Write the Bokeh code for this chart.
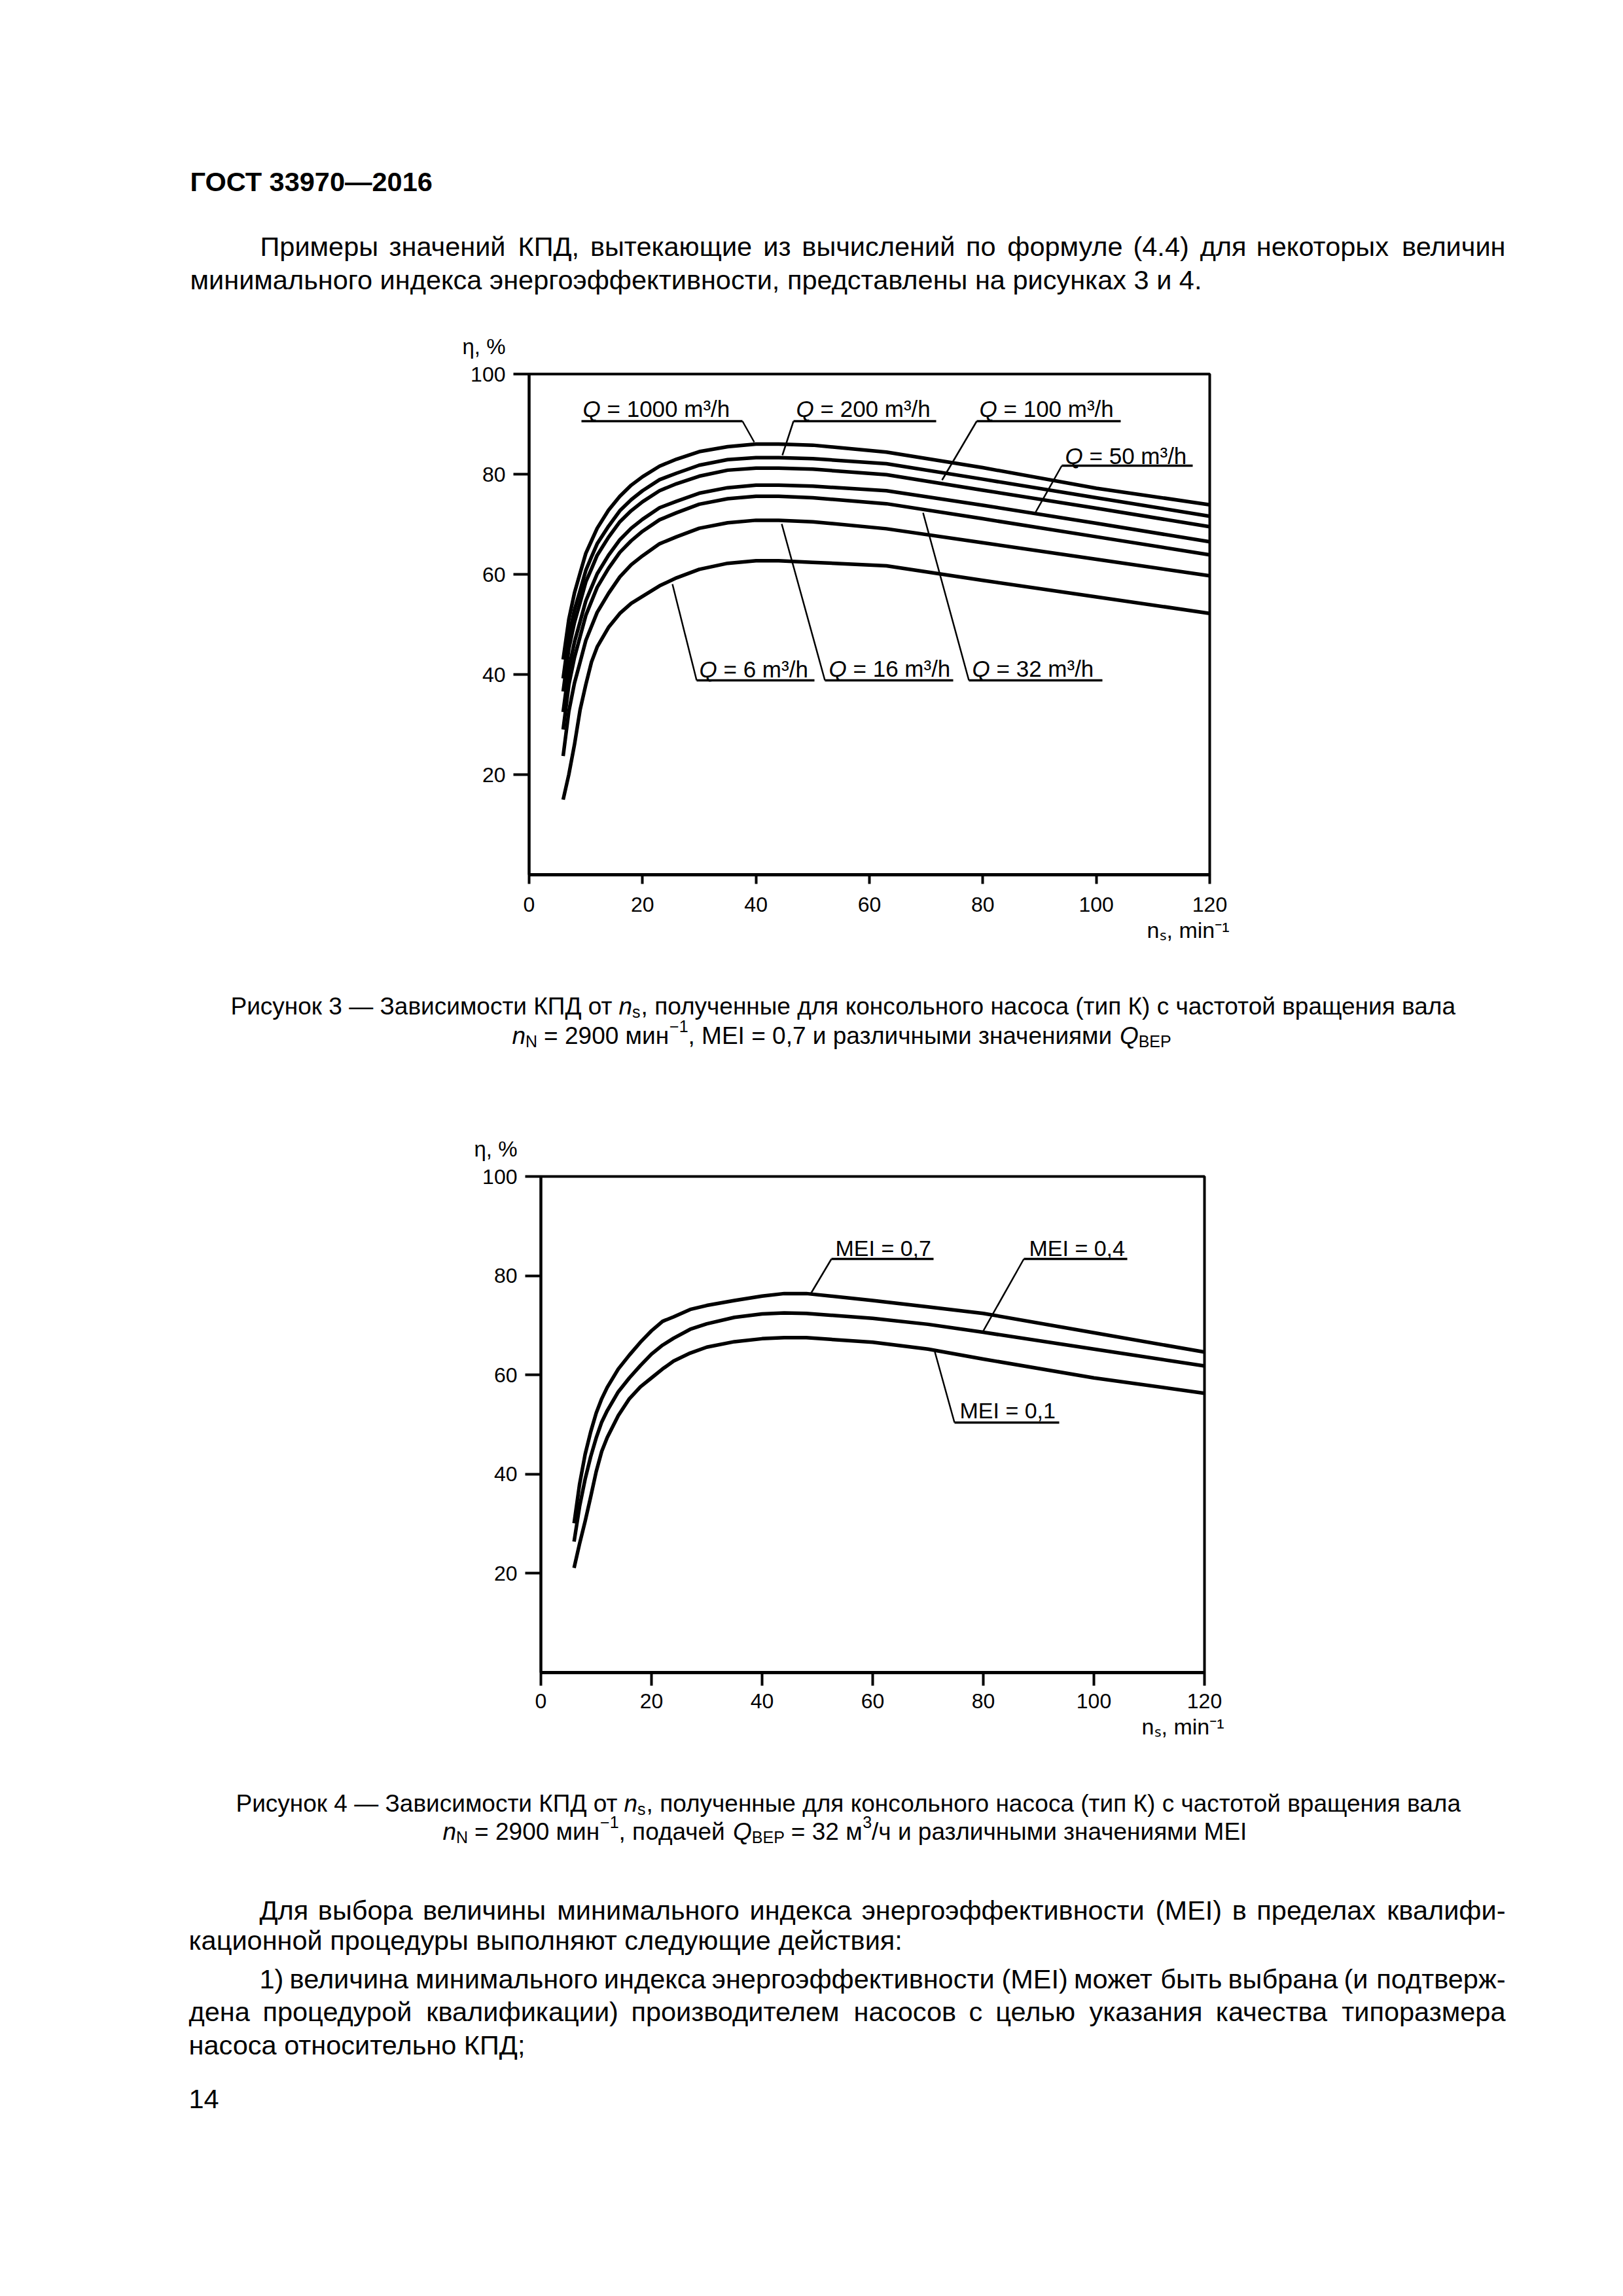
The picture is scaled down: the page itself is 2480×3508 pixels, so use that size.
from bokeh.plotting import figure
from bokeh.models import Range1d, FixedTicker, Title
from bokeh.embed import file_html
from bokeh.resources import INLINE
from bokeh.core.properties import value

FONT = "Liberation Sans"
PAGE_W = 2464

# ---------------- Figure 3 data: eta(ns) for several Q_BEP ----------------
ns_fig3 = [6, 7, 8, 9, 10, 11, 12, 14, 16, 18, 20, 23, 26, 30, 35, 40, 44, 50, 63, 80, 100, 120]
eta_q1000 = [43.0, 51.0, 56.3, 60.3, 64.2, 66.7, 69.2, 72.8, 75.6, 77.8, 79.5, 81.6, 83.0, 84.5, 85.5, 86.0, 86.0, 85.8, 84.4, 81.3, 77.2, 73.9]
eta_q200 = [39.2, 47.6, 52.9, 56.8, 60.8, 63.5, 66.1, 69.6, 72.7, 74.9, 76.7, 78.9, 80.2, 81.8, 82.9, 83.3, 83.3, 83.1, 82.1, 79.0, 75.3, 71.6]
eta_q100 = [36.6, 45.1, 50.4, 54.4, 58.5, 61.1, 63.8, 67.4, 70.5, 72.7, 74.5, 76.7, 78.1, 79.6, 80.8, 81.2, 81.2, 81.0, 79.9, 76.8, 73.2, 69.5]
eta_q50 = [32.5, 41.1, 46.5, 50.6, 54.7, 57.4, 60.1, 63.8, 66.9, 69.2, 71.0, 73.3, 74.6, 76.2, 77.3, 77.8, 77.8, 77.6, 76.7, 73.8, 70.2, 66.5]
eta_q32 = [29.0, 37.9, 43.4, 47.6, 51.8, 54.6, 57.4, 61.2, 64.4, 66.7, 68.6, 70.9, 72.3, 74.0, 75.1, 75.6, 75.6, 75.3, 74.1, 71.1, 67.5, 63.9]
eta_q16 = [23.7, 32.6, 38.3, 42.5, 46.8, 49.6, 52.4, 56.2, 59.5, 61.9, 63.7, 66.1, 67.5, 69.2, 70.3, 70.8, 70.8, 70.5, 69.1, 66.3, 63.0, 59.7]
eta_q6 = [15.0, 20.0, 26.0, 33.0, 38.0, 42.5, 45.5, 49.4, 52.2, 54.2, 55.6, 57.7, 59.3, 61.0, 62.2, 62.7, 62.7, 62.4, 61.7, 58.8, 55.5, 52.2]
q_values = ["1000", "200", "100", "50", "6", "16", "32"]

# ---------------- Figure 4 data: eta(ns) for several MEI ----------------
ns_fig4 = [6, 7, 8, 9, 10, 11, 12, 14, 16, 18, 20, 22, 24, 27, 30, 35, 40, 44, 48, 60, 70, 80, 100, 120]
eta_mei07 = [30.1, 38.0, 44.0, 48.5, 52.3, 55.2, 57.5, 61.2, 64.0, 66.6, 68.9, 70.8, 71.7, 73.2, 74.0, 75.0, 75.9, 76.4, 76.4, 75.0, 73.7, 72.4, 68.5, 64.6]
eta_mei04 = [26.4, 33.5, 39.0, 43.5, 47.3, 50.5, 52.8, 56.6, 59.4, 61.9, 64.2, 66.0, 67.4, 69.2, 70.3, 71.6, 72.3, 72.5, 72.4, 71.4, 70.2, 68.6, 65.2, 61.8]
eta_mei01 = [21.1, 26.0, 30.5, 35.4, 40.5, 44.6, 47.4, 51.8, 55.2, 57.6, 59.4, 61.2, 62.8, 64.4, 65.6, 66.7, 67.3, 67.5, 67.5, 66.6, 65.2, 63.2, 59.4, 56.3]
mei_values = ["0,7", "0,4", "0,1"]

x_ticks = [0, 20, 40, 60, 80, 100, 120]
y_ticks = [20, 40, 60, 80, 100]
y_title = "η, %"
x_title = "nₛ, min⁻¹"

# ---------------- layout geometry (page pixels) ----------------
G1 = dict(top=470, height=1010, fl=816, fr=1856, ft=579, fb=1344)
G2 = dict(top=1700, height=1000, fl=834, fr=1848, ft=1805, fb=2563)


def to_data(g, px, py):
    x = (px - g["fl"]) / (g["fr"] - g["fl"]) * 120.0
    y = (g["fb"] - py) / (g["fb"] - g["ft"]) * 100.0
    return x, y


def make_chart(g, xtick_out, xstandoff, eta_x):
    p = figure(width=PAGE_W, height=g["height"],
               x_range=Range1d(0, 120), y_range=Range1d(0, 100),
               output_backend="svg", toolbar_location=None,
               min_border_left=g["fl"] - 8,
               min_border_right=PAGE_W - (g["fr"] - 8),
               min_border_top=g["ft"] - g["top"],
               min_border_bottom=g["top"] + g["height"] - g["fb"])
    p.grid.visible = False
    p.background_fill_color = "white"
    p.border_fill_color = "white"
    p.outline_line_color = "black"
    p.outline_line_width = 4
    for ax, ticks in ((p.xaxis, x_ticks), (p.yaxis, y_ticks)):
        ax.ticker = FixedTicker(ticks=ticks)
        ax.minor_tick_line_color = None
        ax.major_tick_in = 0
        ax.axis_line_color = "black"
        ax.major_tick_line_color = "black"
        ax.major_tick_line_width = 4
        ax.major_label_text_font = FONT
        ax.major_label_text_font_size = "32px"
        ax.major_label_text_color = "black"
    p.yaxis.axis_line_width = 4
    p.yaxis.major_tick_out = 24
    p.yaxis.major_label_standoff = 12
    p.xaxis.axis_line_width = 5
    p.xaxis.major_tick_out = xtick_out
    p.xaxis.major_label_standoff = xstandoff
    # "eta, %" above the top-left corner
    p.title.text = y_title
    p.title.align = "left"
    p.title.offset = eta_x - g["fl"]
    p.title.standoff = 47
    p.title.text_font = FONT
    p.title.text_font_size = "33px"
    p.title.text_font_style = "normal"
    p.title.text_color = "black"
    # "ns, min-1" below the right end of the x axis
    p.add_layout(Title(text=x_title, align="right", offset=-30,
                       standoff=9, text_font=FONT, text_font_size="34px",
                       text_font_style="normal", text_color="black"), "below")
    return p


def add_text(p, g, px, py, text, size, style="normal"):
    x, y = to_data(g, px, py)
    p.text(x=[x], y=[y], text=[text], text_font=value(FONT),
           text_font_size=value(f"{size}px"), text_font_style=value(style),
           text_align=value("left"), text_baseline=value("alphabetic"),
           text_color="black")


def add_poly(p, g, pts, width):
    xs, ys = zip(*[to_data(g, a, b) for a, b in pts])
    p.line(list(xs), list(ys), line_width=width, line_color="black")


# ---------------- Figure 3 ----------------
p1 = make_chart(G1, 14, 20, 714)
for ys in (eta_q1000, eta_q200, eta_q100, eta_q50, eta_q32, eta_q16, eta_q6):
    p1.line(ns_fig3, ys, line_width=5.5, line_color="black", line_join="round")

# (text x, baseline, underline x0, x1, underline y, leader start, leader end) in page px
q_layout = [
    (898, 632, 896, 1142, 651, (1142, 651), (1160, 683)),
    (1224, 632, 1220, 1438, 651, (1220, 651), (1203, 703)),
    (1504, 632, 1500, 1720, 651, (1500, 651), (1447, 741)),
    (1635, 704, 1630, 1830, 719, (1630, 719), (1590, 790)),
    (1076, 1030, 1072, 1252, 1047, (1072, 1047), (1035, 900)),
    (1274, 1029, 1268, 1464, 1047, (1268, 1047), (1202, 808)),
    (1493, 1029, 1488, 1692, 1047, (1488, 1047), (1418, 791)),
]
for qv, (tx, tb, u0, u1, uy, la, lb) in zip(q_values, q_layout):
    add_text(p1, G1, tx, tb, "Q", 35, "italic")
    add_text(p1, G1, tx + 37, tb, "= " + qv + " m³/h", 35)
    add_poly(p1, G1, [(u0, uy), (u1, uy)], 3.5)
    add_poly(p1, G1, [la, lb], 2.5)

# ---------------- Figure 4 ----------------
p2 = make_chart(G2, 20, 12, 732)
for ys in (eta_mei07, eta_mei04, eta_mei01):
    p2.line(ns_fig4, ys, line_width=5.5, line_color="black", line_join="round")

mei_layout = [
    (1284, 1914, 1278, 1434, 1931, (1278, 1931), (1247, 1983)),
    (1580, 1914, 1572, 1730, 1931, (1572, 1931), (1510, 2041)),
    (1474, 2162, 1466, 1626, 2181, (1466, 2181), (1436, 2073)),
]
for mv, (tx, tb, u0, u1, uy, la, lb) in zip(mei_values, mei_layout):
    add_text(p2, G2, tx, tb, "MEI = " + mv, 34)
    add_poly(p2, G2, [(u0, uy), (u1, uy)], 3.5)
    add_poly(p2, G2, [la, lb], 2.5)


# ---------------- text blocks ----------------
def text_fig(height):
    p = figure(width=PAGE_W, height=height, x_range=Range1d(0, PAGE_W),
               y_range=Range1d(height, 0), output_backend="svg",
               toolbar_location=None, min_border=0,
               x_axis_location=None, y_axis_location=None)
    p.grid.visible = False
    p.outline_line_color = None
    p.background_fill_color = "white"
    p.border_fill_color = "white"
    return p


def put(p, top, x, base, text, size, style="normal", align="left"):
    p.text(x=[x - 8], y=[base - top], text=[text], text_font=value(FONT),
           text_font_size=value(f"{size}px"), text_font_style=value(style),
           text_align=value(align), text_baseline=value("alphabetic"),
           text_color="black")


# approximate Arial / Liberation Sans advance widths (em)
W = {" ": .278, ",": .278, ".": .278, ";": .278, ":": .278, "-": .333, "(": .333, ")": .333,
     "=": .584, "/": .278, "−": .584, "—": 1.0,
     "а": .556, "б": .565, "в": .532, "г": .365, "д": .57, "е": .556, "ж": .716, "з": .458,
     "и": .56, "й": .56, "к": .449, "л": .56, "м": .676, "н": .56, "о": .556, "п": .56,
     "р": .556, "с": .5, "т": .458, "у": .5, "ф": .822, "х": .5, "ц": .569, "ч": .531,
     "ш": .805, "щ": .819, "ъ": .618, "ы": .717, "ь": .528, "э": .51, "ю": .759, "я": .541,
     "П": .719, "К": .583, "Д": .677, "М": .833, "Е": .667, "Р": .667, "З": .604,
     "M": .833, "E": .667, "I": .278, "Q": .778, "B": .667, "P": .667, "N": .722,
     "n": .556, "s": .5, "m": .833, "h": .556}


def est(word):
    return sum(W.get(c, .556) for c in word)


def justify(p, top, x0, x1, base, text, size):
    words = text.split(" ")
    widths = [est(w) * size for w in words]
    gap = (x1 - x0 - sum(widths)) / (len(words) - 1)
    x = x0
    for i, w in enumerate(words):
        if i == len(words) - 1:
            put(p, top, x1, base, w, size, align="right")
        else:
            put(p, top, x, base, w, size)
        x += widths[i] + gap


def chain(p, top, x0, base, segs):
    # segs: (text, size, style, baseline shift, space before in px)
    x = x0
    for text, size, style, dy, sp in segs:
        x += sp
        put(p, top, x, base + dy, text, size, style)
        x += est(text) * size


BODY = 41.5
CAP = 37
SUB = 25
SP = 10
RIGHT = 2308

tT = 8
pt = text_fig(470 - 8)
put(pt, tT, 298, 285, "ГОСТ 33970—2016", 41.5, "bold")
justify(pt, tT, 405, RIGHT, 384, "Примеры значений КПД, вытекающие из вычислений по формуле (4.4) для некоторых величин", BODY)
put(pt, tT, 298, 435, "минимального индекса энергоэффективности, представлены на рисунках 3 и 4.", BODY)

tK = 1480
pk = text_fig(220)
put(pk, tK, 943, 1545, "Рисунок 3 — Зависимости КПД от", CAP, align="right")
chain(pk, tK, 953, 1545, [
    ("n", CAP, "italic", 0, 0),
    ("s", SUB, "normal", 8, 0),
    (", полученные для консольного насоса (тип К) с частотой вращения вала", CAP, "normal", 0, 1),
])
chain(pk, tK, 790, 1590, [
    ("n", CAP, "italic", 0, 0),
    ("N", SUB, "normal", 8, 0),
    ("= 2900 мин", CAP, "normal", 0, SP),
    ("−1", SUB, "normal", -15, 1),
    (", MEI = 0,7 и различными значениями", CAP, "normal", 0, 0),
    ("Q", CAP, "italic", 0, SP),
    ("BEP", SUB, "normal", 8, 0),
])

tB = 2700
pb = text_fig(600)
put(pb, tB, 951, 2763, "Рисунок 4 — Зависимости КПД от", CAP, align="right")
chain(pb, tB, 961, 2763, [
    ("n", CAP, "italic", 0, 0),
    ("s", SUB, "normal", 8, 0),
    (", полученные для консольного насоса (тип К) с частотой вращения вала", CAP, "normal", 0, 1),
])
chain(pb, tB, 684, 2806, [
    ("n", CAP, "italic", 0, 0),
    ("N", SUB, "normal", 8, 0),
    ("= 2900 мин", CAP, "normal", 0, SP),
    ("−1", SUB, "normal", -15, 1),
    (", подачей", CAP, "normal", 0, 0),
    ("Q", CAP, "italic", 0, SP),
    ("BEP", SUB, "normal", 8, 0),
    ("= 32 м", CAP, "normal", 0, SP),
    ("3", SUB, "normal", -15, 1),
    ("/ч и различными значениями MEI", CAP, "normal", 0, 0),
])

justify(pb, tB, 404, RIGHT, 2926, "Для выбора величины минимального индекса энергоэффективности (MEI) в пределах квалифи-", BODY)
put(pb, tB, 296, 2972, "кационной процедуры выполняют следующие действия:", BODY)
justify(pb, tB, 404, RIGHT, 3031, "1) величина минимального индекса энергоэффективности (MEI) может быть выбрана (и подтверж-", BODY)
justify(pb, tB, 296, RIGHT, 3081, "дена процедурой квалификации) производителем насосов с целью указания качества типоразмера", BODY)
put(pb, tB, 296, 3132, "насоса относительно КПД;", BODY)
put(pb, tB, 296, 3214, "14", BODY)

open("out.html", "w").write(file_html([pt, p1, pk, p2, pb], INLINE))
